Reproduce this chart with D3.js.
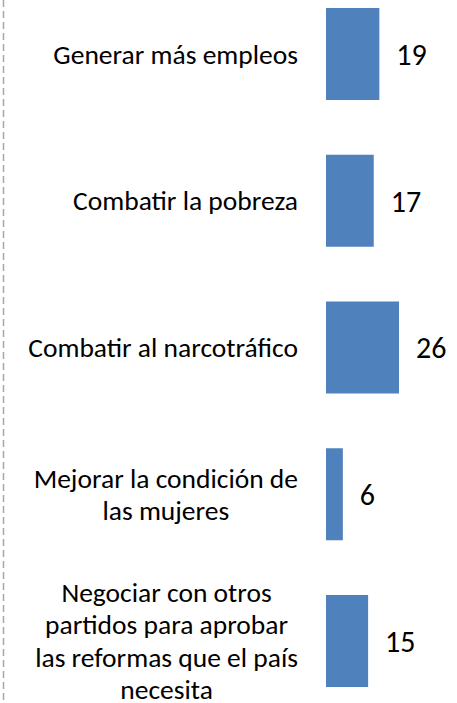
<!DOCTYPE html>
<html>
<head>
<meta charset="utf-8">
<script src="https://cdn.jsdelivr.net/npm/d3@7"></script>
<style>
  html, body { margin: 0; padding: 0; background: #ffffff; }
  svg { display: block; }
</style>
</head>
<body>
<div id="chart"></div>
<script>
const categories = [
  ["Generar más empleos"],
  ["Combatir la pobreza"],
  ["Combatir al narcotráfico"],
  ["Mejorar la condición de", "las mujeres"],
  ["Negociar con otros", "partidos para aprobar", "las reformas que el país", "necesita"]
];
const values = [19, 17, 26, 6, 15];

const W = 457, H = 703;
const FONT = "Carlito, Calibri, Lato, sans-serif";
const svg = d3.select("#chart").append("svg").attr("width", W).attr("height", H);

// dashed border on the left
svg.append("line")
  .attr("x1", 3.5).attr("x2", 3.5).attr("y1", 0).attr("y2", H)
  .attr("stroke", "#a6a6a6").attr("stroke-width", 1.5)
  .attr("stroke-dasharray", "7,4");

const ids = d3.range(values.length);
const y = d3.scaleBand().domain(ids).range([-19.4, 714.4]).paddingInner(0.373).paddingOuter(0.1865);
const x = d3.scaleLinear().domain([0, 26]).range([326, 399]);

svg.append("g").selectAll("rect").data(ids).join("rect")
  .attr("x", x(0))
  .attr("y", i => y(i))
  .attr("width", i => x(values[i]) - x(0))
  .attr("height", y.bandwidth())
  .attr("fill", "#4f81bd");

svg.append("g").selectAll("text").data(ids).join("text")
  .attr("x", i => x(values[i]) + 17)
  .attr("y", i => y(i) + y.bandwidth() / 2)
  .attr("dy", "0.36em")
  .attr("font-family", FONT)
  .attr("font-size", 30)
  .attr("fill", "#000")
  .text(i => values[i]);

const lineH = 32.5;
const labelRight = 298;
const lg = svg.append("g");
ids.forEach(i => {
  const lines = categories[i];
  const cy = y(i) + y.bandwidth() / 2;
  const t = lg.append("text")
    .attr("font-family", FONT)
    .attr("font-size", 27.5)
    .attr("fill", "#000")
    .attr("text-anchor", "middle");
  const spans = lines.map((ln, k) => t.append("tspan")
    .attr("y", cy + (k - (lines.length - 1) / 2) * lineH)
    .attr("dy", "0.35em")
    .text(ln));
  const maxW = d3.max(spans, s => s.node().getComputedTextLength());
  spans.forEach(s => s.attr("x", labelRight - maxW / 2));
});
</script>
</body>
</html>
